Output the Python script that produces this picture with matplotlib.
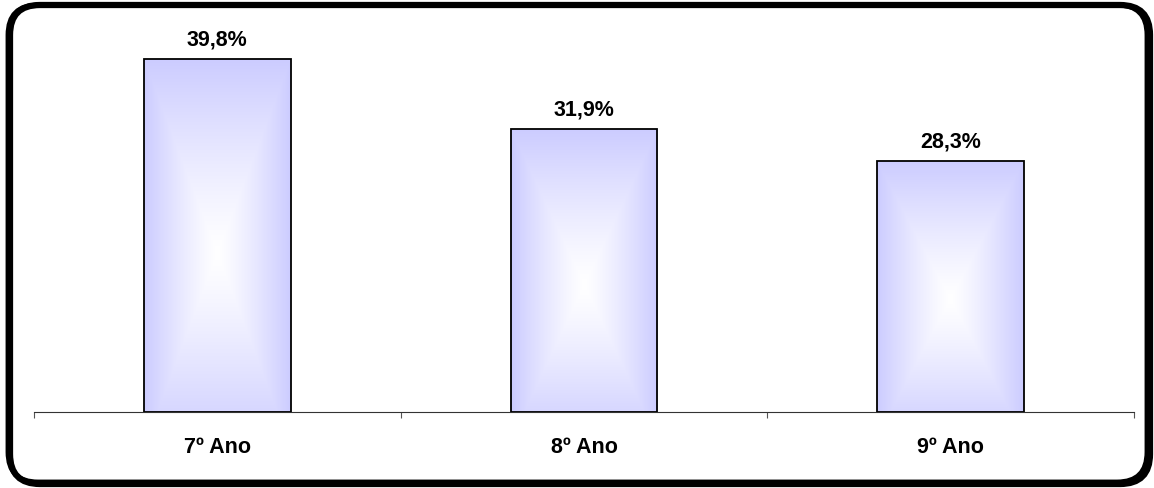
import numpy as np
import matplotlib
matplotlib.use("Agg")
import matplotlib.pyplot as plt
from matplotlib.patches import FancyBboxPatch, Rectangle

plt.rcParams['font.family'] = ['Liberation Sans', 'DejaVu Sans']

categorias = ['7º Ano', '8º Ano', '9º Ano']
valores = [39.8, 31.9, 28.3]
rotulos = ['39,8%', '31,9%', '28,3%']

W, H = 1154, 489
fig = plt.figure(figsize=(W / 100, H / 100), dpi=100)

# moldura arredondada com sombra
sombra = FancyBboxPatch((10 / W, 4 / H), 1140 / W, 479 / H,
                        boxstyle="round,pad=0,rounding_size=0.026",
                        transform=fig.transFigure, fill=False,
                        edgecolor='black', linewidth=4.5, mutation_aspect=W / H)
fig.patches.append(sombra)
moldura = FancyBboxPatch((8 / W, 6 / H), 1139 / W, 477 / H,
                         boxstyle="round,pad=0,rounding_size=0.026",
                         transform=fig.transFigure, fill=False,
                         edgecolor='black', linewidth=3.5, mutation_aspect=W / H)
fig.patches.append(moldura)

ax = fig.add_axes([34 / W, 76 / H, 1100 / W, 399 / H])
x = np.arange(len(categorias))
largura = 0.4

# gradiente: centro branco, bordas lilás
cor_borda = np.array([204, 204, 255]) / 255.0
u = np.linspace(-1, 1, 200)
v = np.linspace(-1, 1, 400)
U, V = np.meshgrid(u, v)
t = np.maximum(np.abs(U), np.abs(V - 0.1) / 1.1)
t = np.clip(t, 0, 1) ** 1.2
img = (1 - t[..., None]) * 1.0 + t[..., None] * cor_borda

barras = ax.bar(x, valores, width=largura, color='none', edgecolor='black',
                linewidth=1.3, zorder=3)
for b in barras:
    x0, y0 = b.get_x(), b.get_y()
    w, h = b.get_width(), b.get_height()
    im = ax.imshow(img, extent=(x0, x0 + w, y0, y0 + h), origin='upper',
                   aspect='auto', zorder=2, interpolation='bilinear')
    clip = Rectangle((x0, y0), w, h, transform=ax.transData)
    im.set_clip_path(clip)

for xi, val, rot in zip(x, valores, rotulos):
    ax.text(xi, val + 1.1, rot, ha='center', va='bottom',
            fontsize=15.5, fontweight='bold')

ax.set_xlim(-0.5, 2.5)
ax.set_ylim(0, 45)
ax.set_xticks(x)
ax.set_xticklabels(categorias, fontsize=15.5, fontweight='bold')
ax.tick_params(axis='x', which='major', length=0, pad=17)
ax.set_xticks([-0.5, 0.5, 1.5, 2.5], minor=True)
ax.tick_params(axis='x', which='minor', length=4, width=0.8, color='#555555')
ax.set_yticks([])
for lado in ['left', 'right', 'top']:
    ax.spines[lado].set_visible(False)
ax.spines['bottom'].set_color('#333333')
ax.spines['bottom'].set_linewidth(0.8)
ax.patch.set_visible(False)

fig.savefig('out.png', dpi=100)
